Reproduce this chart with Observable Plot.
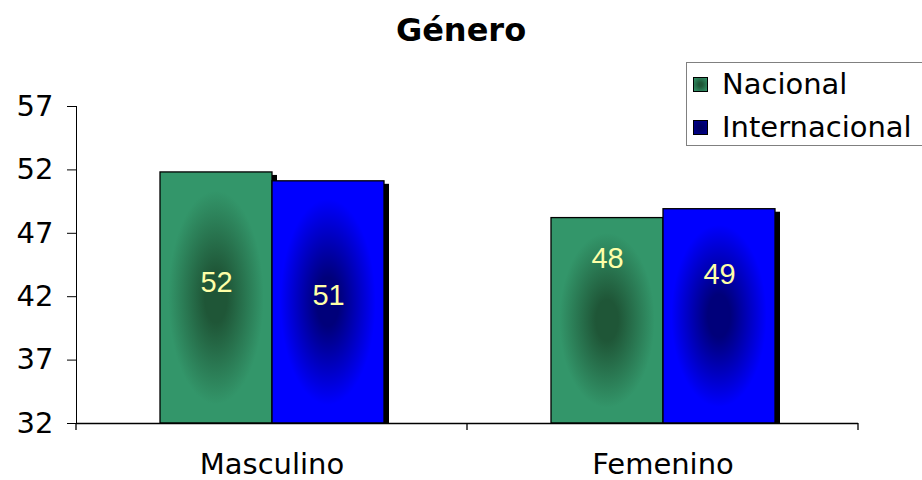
<!DOCTYPE html>
<html><head><meta charset="utf-8">
<script src="https://cdn.jsdelivr.net/npm/d3@7"></script>
<script src="https://cdn.jsdelivr.net/npm/@observablehq/plot@0.6"></script>
<style>
html,body{margin:0;padding:0;background:#fff;overflow:hidden;width:922px;height:480px;}
#wrap{position:relative;width:922px;height:480px;font-family:"DejaVu Sans",Verdana,sans-serif;color:#000;}
#title{position:absolute;left:0;width:922px;top:11px;text-align:center;font-weight:bold;font-size:32px;line-height:38px;}
#legend{position:absolute;left:686px;top:62px;width:260px;height:84px;border:1px solid #808080;background:#fff;box-sizing:border-box;}
.item{position:absolute;left:6px;height:34px;display:flex;align-items:center;font-size:29px;white-space:nowrap;}
.sw{width:13px;height:13px;border:1px solid #000;margin-right:14px;}
#chart{position:absolute;left:0;top:0;}
</style>
</head><body>
<div id="wrap">
  <div id="chart"></div>
  <div id="title">Género</div>
  <div id="legend"></div>
</div>
<script>
const categories = ["Masculino", "Femenino"];
const series = ["Nacional", "Internacional"];
const nacional = [51.8, 48.2];
const internacional = [51.1, 48.9];
const labelAt = [[43.1, 42.1], [45.0, 43.75]];
const yTicks = [32, 37, 42, 47, 52, 57];

const seriesValues = [nacional, internacional];
const rows = [];
categories.forEach((c, i) => series.forEach((s, j) => rows.push({
  category: c, series: s, value: seriesValues[j][i], at: labelAt[i][j]
})));

const fills = {Nacional: "url(#gNac)", Internacional: "url(#gInt)"};

const plot = Plot.plot({
  width: 922, height: 480,
  marginLeft: 76, marginRight: 64, marginTop: 106, marginBottom: 57,
  style: {fontFamily: "DejaVu Sans, Verdana, sans-serif", fontSize: "29px", color: "#000", background: "transparent"},
  fx: {domain: categories, padding: 0, label: null, tickSize: 0, tickPadding: 30},
  x: {domain: series, axis: null, paddingInner: 0, paddingOuter: 0.74},
  y: {domain: [32, 57], ticks: yTicks, tickSize: 9, tickPadding: 14, label: null, line: true, tickFormat: d3.format("d")},
  marks: [
    Plot.barY(rows, {fx: "category", x: "series", y1: 32, y2: "value", fill: "#000", dx: 5, insetTop: 3}),
    ...series.map(s => Plot.barY(rows.filter(r => r.series === s), {
      fx: "category", x: "series", y1: 32, y2: "value", fill: fills[s], stroke: "#000", strokeWidth: 1.3
    })),
    Plot.text(rows, {fx: "category", x: "series", y: "at", text: d => d3.format(".0f")(d.value),
      fill: "#FFFFA8", fontSize: 29, fontFamily: "Liberation Sans, Arial, sans-serif"}),
    Plot.ruleY([32], {stroke: "#000", strokeWidth: 1.3})
  ]
});
document.getElementById("chart").appendChild(plot);

// gradients
const svg = d3.select(plot);
const defs = svg.insert("defs", ":first-child");
const grads = [["gNac", "#1f5637", "#33966a"], ["gInt", "#00007a", "#0000ff"]];
grads.forEach(([id, c0, c1]) => {
  const g = defs.append("radialGradient").attr("id", id).attr("cx", "50%").attr("cy", "50%").attr("r", "50%");
  g.append("stop").attr("offset", "0%").attr("stop-color", c0);
  g.append("stop").attr("offset", "20%").attr("stop-color", c0);
  g.append("stop").attr("offset", "85%").attr("stop-color", c1);
  g.append("stop").attr("offset", "100%").attr("stop-color", c1);
});

// category boundary ticks
const fx = plot.scale("fx");
const y = plot.scale("y");
const y0 = y.apply(32);
for (let i = 0; i <= categories.length; i++) {
  const xx = fx.range[0] + i * fx.step;
  svg.append("line").attr("x1", xx).attr("x2", xx).attr("y1", y0).attr("y2", y0 + 7)
    .attr("stroke", "#000").attr("stroke-width", 1.3);
}

// legend
const legend = document.getElementById("legend");
const swFill = {Nacional: "radial-gradient(#1f5637 20%, #33966a)", Internacional: "radial-gradient(#000060 20%, #000090)"};
series.forEach((s, i) => {
  const it = document.createElement("div");
  it.className = "item";
  it.style.top = (4 + i * 43) + "px";
  const sw = document.createElement("div");
  sw.className = "sw";
  sw.style.background = swFill[s];
  it.appendChild(sw);
  it.appendChild(document.createTextNode(s));
  legend.appendChild(it);
});
</script>
</body></html>
